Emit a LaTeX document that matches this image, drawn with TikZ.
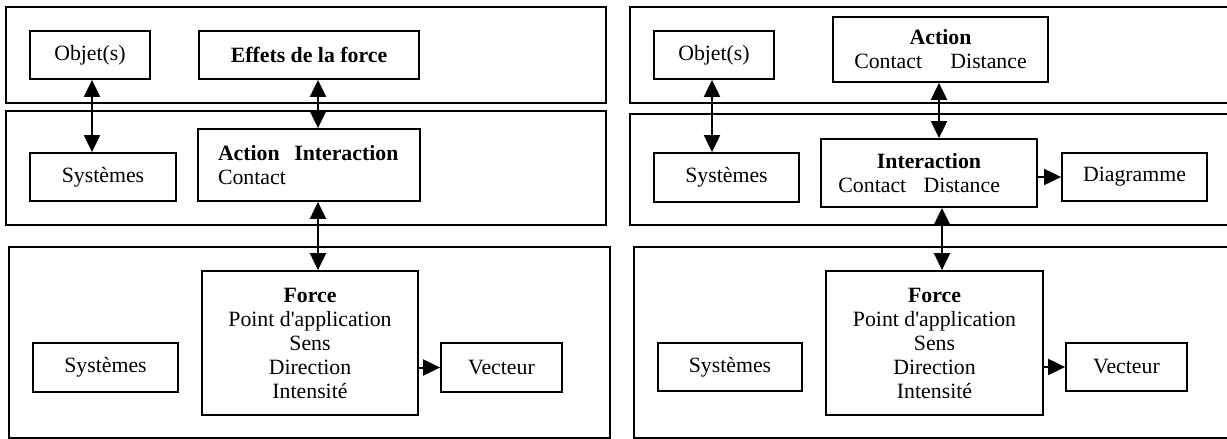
\documentclass[tikz,border=0pt]{standalone}
\usepackage{fontspec}
\setmainfont{Liberation Serif}
\usetikzlibrary{arrows.meta}
\tikzset{
  box/.style={draw, line width=0.9pt, inner sep=0pt, align=center},
  panel/.style={draw, line width=0.9pt},
  link/.style={line width=1pt, -{Triangle[length=8.5pt,width=8pt]}},
  dlink/.style={line width=1pt, {Triangle[length=8.5pt,width=8pt]}-{Triangle[length=8.5pt,width=8pt]}},
}
\begin{document}
\begin{tikzpicture}[x=0.5pt, y=-0.5pt, font=\fontsize{10.9}{12}\selectfont]
\useasboundingbox (0,0) rectangle (1227,439);
\clip (0,0) rectangle (1227,439);
\draw[panel] (6,7) rectangle (606,103);
\draw[panel] (6,111) rectangle (606,225);
\draw[panel] (9,247) rectangle (610,438);
\draw[panel] (630,7) rectangle (1235,103);
\draw[panel] (630,114) rectangle (1235,225);
\draw[panel] (634,247) rectangle (1235,438);
\node[box, minimum width=60pt, minimum height=24pt] (objL) at (90,55) {Objet(s)};
\node[box, minimum width=110pt, minimum height=24pt] (effets) at (309,55) {\textbf{Effets de la force}};
\node[box, minimum width=73pt, minimum height=24pt] (sysL1) at (103,177) {Systèmes};
\node[box, minimum height=36pt, text width=91pt, inner xsep=10pt, align=left] (actL) at (309,165) {\mbox{\textbf{Action\ \ Interaction}}\\Contact};
\node[box, minimum width=72.5pt, minimum height=24.5pt] (sysL2) at (105.5,367.5) {Systèmes};
\node[box, minimum width=108pt, minimum height=72pt] (forceL) at (310,343) {\textbf{Force}\\Point d\textquotesingle application\\Sens\\Direction\\Intensité};
\node[box, minimum width=60.5pt, minimum height=24.5pt] (vecL) at (501.5,367.5) {Vecteur};
\draw[dlink] ([xshift=1pt]objL.south) -- ([xshift=1pt]objL.south |- sysL1.north);
\draw[dlink] ([xshift=4.5pt]effets.south) -- ([xshift=4.5pt]effets.south |- actL.north);
\draw[dlink] ([xshift=4pt]forceL.north |- actL.south) -- ([xshift=4pt]forceL.north);
\draw[link] (forceL.east |- vecL.west) -- (vecL.west);
\node[box, minimum width=60pt, minimum height=24pt] (objR) at (714,55) {Objet(s)};
\node[box, minimum width=107.5pt, minimum height=32.5pt] (actR) at (940.5,49.5) {\textbf{Action}\\Contact\hspace{1.3em}Distance};
\node[box, minimum width=72.5pt, minimum height=24.5pt] (sysR1) at (726.5,177.5) {Systèmes};
\node[box, minimum width=108pt, minimum height=34pt] (interR) at (929,173) {\textbf{Interaction}\\Contact\hspace{0.8em}Distance\hspace*{0.9em}};
\node[box, minimum width=72.5pt, minimum height=24pt] (diag) at (1134.5,177) {Diagramme};
\node[box, minimum width=72pt, minimum height=24pt] (sysR2) at (730,367) {Systèmes};
\node[box, minimum width=108.5pt, minimum height=72pt] (forceR) at (934.5,343) {\textbf{Force}\\Point d\textquotesingle application\\Sens\\Direction\\Intensité};
\node[box, minimum width=60.5pt, minimum height=24pt] (vecR) at (1126.5,367) {Vecteur};
\draw[dlink] ([xshift=-1pt]objR.south) -- ([xshift=-1pt]objR.south |- sysR1.north);
\draw[dlink] ([xshift=-0.75pt]actR.south) -- ([xshift=-0.75pt]actR.south |- interR.north);
\draw[dlink] ([xshift=3.75pt]forceR.north |- interR.south) -- ([xshift=3.75pt]forceR.north);
\draw[link] (interR.east |- diag.west) -- (diag.west);
\draw[link] (forceR.east |- vecR.west) -- (vecR.west);
\end{tikzpicture}
\end{document}
